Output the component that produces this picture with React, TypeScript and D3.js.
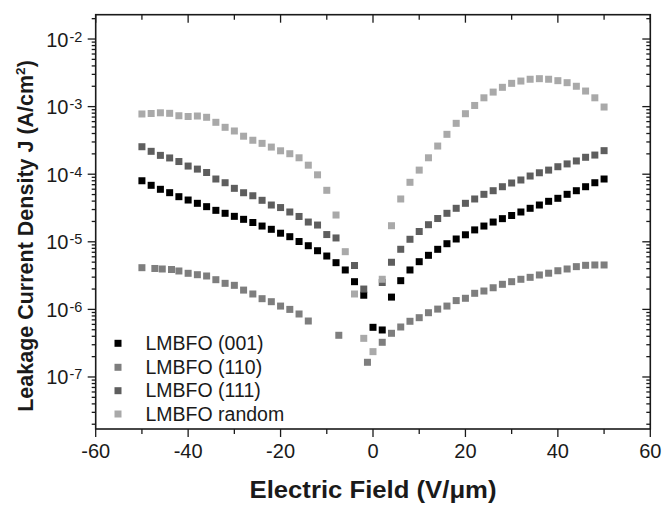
import React, { useEffect, useRef } from 'react';
import * as d3 from 'd3';

// electric field (V/um) for LMBFO (001) and random
const field = [
  -50, -48, -46, -44, -42, -40, -38, -36, -34, -32, -30, -28, -26, -24, -22, -20, -18, -16, -14, -12, -10, -8, -6, -4, -2,
  0, 2, 4, 6, 8, 10, 12, 14, 16, 18, 20, 22, 24, 26, 28, 30, 32, 34, 36, 38, 40, 42, 44, 46, 48, 50,
];
const j001 = [
  8.0e-5, 6.85e-5, 5.98e-5, 5.33e-5, 4.65e-5, 4.15e-5, 3.71e-5, 3.31e-5, 2.92e-5, 2.64e-5, 2.38e-5, 2.15e-5, 1.93e-5,
  1.71e-5, 1.53e-5, 1.34e-5, 1.19e-5, 1.01e-5, 8.75e-6, 7.38e-6, 6.16e-6, 4.91e-6, 3.83e-6, 2.57e-6, 1.62e-6,
  5.43e-7, 4.96e-7, 1.52e-6, 2.66e-6, 3.83e-6, 5.08e-6, 6.31e-6, 7.74e-6, 9.37e-6, 1.10e-5, 1.27e-5, 1.50e-5, 1.71e-5,
  1.96e-5, 2.20e-5, 2.45e-5, 2.76e-5, 3.13e-5, 3.50e-5, 3.97e-5, 4.40e-5, 5.04e-5, 5.70e-5, 6.53e-5, 7.48e-5, 8.49e-5,
];
const jRandom = [
  7.78e-4, 7.91e-4, 8.10e-4, 7.96e-4, 7.33e-4, 7.14e-4, 7.26e-4, 6.95e-4, 5.86e-4, 4.94e-4, 4.36e-4, 3.65e-4, 3.18e-4,
  2.86e-4, 2.52e-4, 2.22e-4, 2.01e-4, 1.75e-4, 1.36e-4, 9.79e-5, 5.78e-5, 2.49e-5, 7.14e-6, 1.69e-6, 3.73e-7,
  2.37e-7, 2.79e-6, 1.73e-5, 4.30e-5, 7.59e-5, 1.15e-4, 1.75e-4, 2.61e-4, 3.89e-4, 5.66e-4, 7.85e-4, 1.04e-3, 1.35e-3,
  1.64e-3, 1.93e-3, 2.21e-3, 2.39e-3, 2.54e-3, 2.59e-3, 2.54e-3, 2.42e-3, 2.26e-3, 2.0e-3, 1.70e-3, 1.35e-3, 9.86e-4,
];

const field111 = [
  -50, -48, -46, -44, -42, -40, -38, -36, -34, -32, -30, -28, -26, -24, -22, -20, -18, -16, -14, -12, -10, -8, -4, -2,
  2, 4, 6, 8, 10, 12, 14, 16, 18, 20, 22, 24, 26, 28, 30, 32, 34, 36, 38, 40, 42, 44, 46, 48, 50,
];
const j111 = [
  2.55e-4, 2.18e-4, 1.90e-4, 1.74e-4, 1.54e-4, 1.32e-4, 1.19e-4, 1.06e-4, 8.49e-5, 7.48e-5, 6.18e-5, 5.32e-5, 4.80e-5,
  4.11e-5, 3.50e-5, 3.21e-5, 2.76e-5, 2.37e-5, 1.96e-5, 1.77e-5, 1.28e-5, 1.14e-5, 4.46e-6, 2.0e-6,
  2.5e-6, 4.98e-6, 7.75e-6, 1.09e-5, 1.42e-5, 1.79e-5, 2.21e-5, 2.64e-5, 3.13e-5, 3.71e-5, 4.30e-5, 5.04e-5, 5.70e-5,
  6.53e-5, 7.41e-5, 8.21e-5, 9.40e-5, 1.05e-4, 1.15e-4, 1.29e-4, 1.42e-4, 1.57e-4, 1.78e-4, 1.92e-4, 2.23e-4,
];

const field110 = [
  -50, -47.2, -45.6, -43.6, -42, -40, -38, -36, -34, -32, -30, -28, -26, -24, -22, -20, -18, -16, -14, -7.4, -1.2,
  2, 4, 6, 8, 10, 12, 14, 16, 18, 20, 22, 24, 26, 28, 30, 32, 34, 36, 38, 40, 42, 44, 46, 48, 50,
];
const j110 = [
  4.14e-6, 4.03e-6, 3.96e-6, 3.89e-6, 3.70e-6, 3.42e-6, 3.26e-6, 3.12e-6, 2.75e-6, 2.43e-6, 2.27e-6, 1.93e-6, 1.69e-6,
  1.44e-6, 1.30e-6, 1.12e-6, 1.0e-6, 8.55e-7, 6.73e-7, 4.14e-7, 1.65e-7,
  3.26e-7, 4.43e-7, 5.49e-7, 6.67e-7, 7.54e-7, 8.93e-7, 1.01e-6, 1.12e-6, 1.35e-6, 1.46e-6, 1.73e-6, 1.87e-6, 2.09e-6,
  2.35e-6, 2.57e-6, 2.79e-6, 2.98e-6, 3.23e-6, 3.43e-6, 3.73e-6, 3.96e-6, 4.29e-6, 4.49e-6, 4.54e-6, 4.54e-6,
];

const seriesNames = ['LMBFO (001)', 'LMBFO (110)', 'LMBFO (111)', 'LMBFO random'];
const xTicks = [-60, -40, -20, 0, 20, 40, 60];
const xMinorTicks = [-50, -30, -10, 10, 30, 50];
const yExponents = [-7, -6, -5, -4, -3, -2];

const FONT = '"Liberation Sans", Arial, sans-serif';

export default function App() {
  const ref = useRef<SVGSVGElement>(null);

  useEffect(() => {
    const width = 664;
    const height = 505;
    const left = 95.7, right = 650.3, top = 14.7, bottom = 429;

    const svg = d3.select(ref.current);
    svg.selectAll('*').remove();
    svg.attr('width', width).attr('height', height);

    const x = d3.scaleLinear().domain([-60, 60]).range([left, right]);
    const y = d3.scaleLog().domain([1.7e-8, 2.29e-2]).range([bottom, top]);

    const series = [
      { name: seriesNames[0], xs: field, ys: j001, color: '#000000' },
      { name: seriesNames[1], xs: field110, ys: j110, color: '#7e7e7e' },
      { name: seriesNames[2], xs: field111, ys: j111, color: '#5e5e5e' },
      { name: seriesNames[3], xs: field, ys: jRandom, color: '#a9a9a9' },
    ];

    const ms = 7;
    series.forEach((s) => {
      svg
        .append('g')
        .selectAll('rect')
        .data(s.xs.map((v, i) => [v, s.ys[i]]))
        .enter()
        .append('rect')
        .attr('x', (d) => x(d[0]) - ms / 2)
        .attr('y', (d) => y(d[1]) - ms / 2)
        .attr('width', ms)
        .attr('height', ms)
        .attr('fill', s.color);
    });

    // frame
    const axisColor = '#1a1a1a';
    svg
      .append('rect')
      .attr('x', left)
      .attr('y', top)
      .attr('width', right - left)
      .attr('height', bottom - top)
      .attr('fill', 'none')
      .attr('stroke', axisColor)
      .attr('stroke-width', 1.6);

    const ticks = svg.append('g').attr('stroke', axisColor).attr('stroke-width', 1.3);

    // x ticks: bottom outward, top inward
    xTicks.forEach((t) => {
      ticks.append('line').attr('x1', x(t)).attr('x2', x(t)).attr('y1', bottom).attr('y2', bottom + 8);
      ticks.append('line').attr('x1', x(t)).attr('x2', x(t)).attr('y1', top).attr('y2', top + 8);
    });
    xMinorTicks.forEach((t) => {
      ticks.append('line').attr('x1', x(t)).attr('x2', x(t)).attr('y1', bottom).attr('y2', bottom + 5);
      ticks.append('line').attr('x1', x(t)).attr('x2', x(t)).attr('y1', top).attr('y2', top + 5);
    });

    // y ticks: left outward, right inward
    const [d0, d1] = y.domain();
    for (let e = -8; e <= -1; e++) {
      for (let m = 1; m <= 9; m++) {
        const v = m * Math.pow(10, e);
        if (v < d0 || v > d1) continue;
        const len = m === 1 ? 8 : 4;
        const yy = y(v);
        ticks.append('line').attr('x1', left - len).attr('x2', left).attr('y1', yy).attr('y2', yy);
        ticks.append('line').attr('x1', right - len).attr('x2', right).attr('y1', yy).attr('y2', yy);
      }
    }

    // x tick labels
    svg
      .append('g')
      .selectAll('text')
      .data(xTicks)
      .enter()
      .append('text')
      .attr('x', (d) => x(d))
      .attr('y', 458)
      .attr('text-anchor', 'middle')
      .attr('font-family', FONT)
      .attr('font-size', 20)
      .attr('fill', '#1a1a1a')
      .text((d) => String(d));

    // y tick labels 10^n
    yExponents.forEach((e) => {
      const yy = y(Math.pow(10, e));
      svg
        .append('text')
        .attr('x', 68.5)
        .attr('y', yy + 7.5)
        .attr('text-anchor', 'end')
        .attr('font-family', FONT)
        .attr('font-size', 20)
        .attr('fill', '#1a1a1a')
        .text('10');
      svg
        .append('text')
        .attr('x', 69.5)
        .attr('y', yy + 2.5)
        .attr('font-family', FONT)
        .attr('font-size', 14.5)
        .attr('fill', '#1a1a1a')
        .text(String(e));
    });

    // axis titles
    svg
      .append('text')
      .attr('x', x(0))
      .attr('y', 498)
      .attr('text-anchor', 'middle')
      .attr('font-family', FONT)
      .attr('font-weight', 'bold')
      .attr('font-size', 24)
      .attr('textLength', 247)
      .attr('lengthAdjust', 'spacingAndGlyphs')
      .attr('fill', '#1a1a1a')
      .text('Electric Field (V/\u03bcm)');

    const yt = svg
      .append('text')
      .attr('transform', `translate(33, 236) rotate(-90)`)
      .attr('text-anchor', 'middle')
      .attr('font-family', FONT)
      .attr('font-weight', 'bold')
      .attr('font-size', 21.5)
      .attr('fill', '#1a1a1a');
    yt.append('tspan').text('Leakage Current Density J (A/cm');
    yt.append('tspan').attr('font-size', 13.5).attr('dy', -8).text('2');
    yt.append('tspan').attr('dy', 8).text(')');

    // legend
    const legendY = [343.3, 367.3, 390.7, 414];
    series.forEach((s, i) => {
      svg
        .append('rect')
        .attr('x', 118 - ms / 2)
        .attr('y', legendY[i] - ms / 2)
        .attr('width', ms)
        .attr('height', ms)
        .attr('fill', s.color);
      svg
        .append('text')
        .attr('x', 145.5)
        .attr('y', legendY[i] + 6.5)
        .attr('font-family', FONT)
        .attr('font-size', 19.5)
        .attr('fill', '#1a1a1a')
        .text(s.name);
    });
  });

  return (
    <div>
      <svg ref={ref} style={{ position: 'absolute', left: 0, top: 0, background: '#fff' }}></svg>
    </div>
  );
}
